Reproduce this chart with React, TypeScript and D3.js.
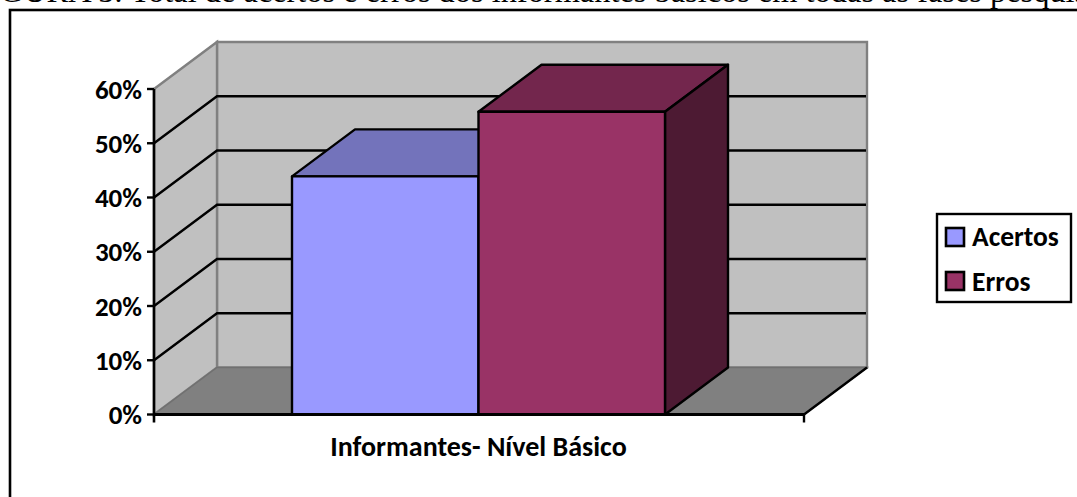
import React from "react";
import * as d3 from "d3";

// Series and axis content
const yTicks = [0, 10, 20, 30, 40, 50, 60];
const category = "Informantes- Nível Básico";
const seriesNames = ["Acertos", "Erros"];
const seriesValues = [43.9, 55.8];
const seriesFronts = ["#9999ff", "#993366"];
const seriesTops = ["#7373bb", "#73264d"];
const seriesSides = ["#4d1a33", "#4d1a33"];
const caption =
  "FIGURA 5: Total de acertos e erros dos informantes básicos em todas as fases pesquisadas";

const WIDTH = 1077;
const HEIGHT = 497;
const DEPTH_X = 63;
const DEPTH_Y = -47;
const FONT = "Carlito, Calibri, Lato, 'Open Sans', sans-serif";

const y = d3.scaleLinear().domain([0, 60]).range([414.5, 89]);
const x = d3.scaleBand().domain(seriesNames).range([292, 665]);

const poly = (pts: [number, number][]) => d3.line()(pts) + "Z";

export default function App() {
  const floorY = y(0);
  const topY = y(60);
  const left = 154;
  const right = 804;
  return (
    <svg
      width={WIDTH}
      height={HEIGHT}
      style={{ position: "fixed", left: 0, top: 0, background: "#fff" }}
    >
      <text
        x={-29}
        y={1.5}
        fontFamily="'Liberation Serif', serif"
        fontSize={32.4}
        fill="#000"
      >
        {caption}
      </text>
      <rect x={10} y={10} width={1090} height={520} fill="#fff" stroke="#000" strokeWidth={2.6} />

      {/* Back wall, side wall and floor */}
      <path
        d={poly([
          [left + DEPTH_X, topY + DEPTH_Y],
          [right + DEPTH_X, topY + DEPTH_Y],
          [right + DEPTH_X, floorY + DEPTH_Y],
          [left + DEPTH_X, floorY + DEPTH_Y],
        ])}
        fill="#c0c0c0"
        stroke="#808080"
        strokeWidth={2.4}
      />
      <path
        d={poly([
          [left, topY],
          [left + DEPTH_X, topY + DEPTH_Y],
          [left + DEPTH_X, floorY + DEPTH_Y],
          [left, floorY],
        ])}
        fill="#c0c0c0"
        stroke="#808080"
        strokeWidth={2.4}
      />
      <path
        d={poly([
          [left, floorY],
          [right, floorY],
          [right + DEPTH_X, floorY + DEPTH_Y],
          [left + DEPTH_X, floorY + DEPTH_Y],
        ])}
        fill="#808080"
        stroke="#707070"
        strokeWidth={1.5}
      />

      {/* Gridlines run along the side wall and across the back wall */}
      {yTicks
        .filter((t) => t > 0 && t < 60)
        .map((t) => (
          <path
            key={t}
            d={
              d3.line()([
                [left, y(t)],
                [left + DEPTH_X, y(t) + DEPTH_Y],
                [right + DEPTH_X - 1, y(t) + DEPTH_Y],
              ]) as string
            }
            fill="none"
            stroke="#000"
            strokeWidth={2.4}
          />
        ))}

      {/* Bars */}
      {seriesValues.map((v, i) => {
        const l = x(seriesNames[i]) as number;
        const r = l + x.bandwidth();
        const t = y(v);
        const b = y(0);
        return (
          <g key={seriesNames[i]} stroke="#000" strokeWidth={2.4} strokeLinejoin="round">
            <path
              d={poly([
                [l, t],
                [l + DEPTH_X, t + DEPTH_Y],
                [r + DEPTH_X, t + DEPTH_Y],
                [r, t],
              ])}
              fill={seriesTops[i]}
            />
            <path
              d={poly([
                [r, t],
                [r + DEPTH_X, t + DEPTH_Y],
                [r + DEPTH_X, b + DEPTH_Y],
                [r, b],
              ])}
              fill={seriesSides[i]}
            />
            <rect x={l} y={t} width={x.bandwidth()} height={b - t} fill={seriesFronts[i]} />
          </g>
        );
      })}

      {/* Value axis */}
      <line x1={left} x2={left} y1={topY} y2={floorY + 8} stroke="#000" strokeWidth={2.6} />
      {yTicks.map((t) => (
        <g key={t}>
          <line x1={left - 7} x2={left} y1={y(t)} y2={y(t)} stroke="#000" strokeWidth={2.4} />
          <text
            x={left - 12}
            y={y(t) + 9.5}
            textAnchor="end"
            fontFamily={FONT}
            fontWeight={700}
            fontSize={27}
            fill="#000"
          >
            {t}%
          </text>
        </g>
      ))}

      {/* Category axis */}
      <line x1={left} x2={right} y1={floorY} y2={floorY} stroke="#000" strokeWidth={3} />
      <line x1={right} x2={right} y1={floorY} y2={floorY + 8} stroke="#000" strokeWidth={2.4} />
      <line
        x1={right}
        x2={right + DEPTH_X}
        y1={floorY}
        y2={floorY + DEPTH_Y}
        stroke="#000"
        strokeWidth={2.4}
      />
      <text
        x={478.5}
        y={456}
        textAnchor="middle"
        fontFamily={FONT}
        fontWeight={700}
        fontSize={28}
        fill="#000"
      >
        {category}
      </text>

      {/* Legend */}
      <rect x={937} y={214} width={134} height={88} fill="#fff" stroke="#000" strokeWidth={2.4} />
      {seriesNames.map((n, i) => (
        <g key={n}>
          <rect
            x={946}
            y={228 + i * 44}
            width={18}
            height={18}
            fill={seriesFronts[i]}
            stroke="#000"
            strokeWidth={2.6}
          />
          <text
            x={972}
            y={246 + i * 45}
            fontFamily={FONT}
            fontWeight={700}
            fontSize={27.5}
            fill="#000"
          >
            {n}
          </text>
        </g>
      ))}
    </svg>
  );
}
